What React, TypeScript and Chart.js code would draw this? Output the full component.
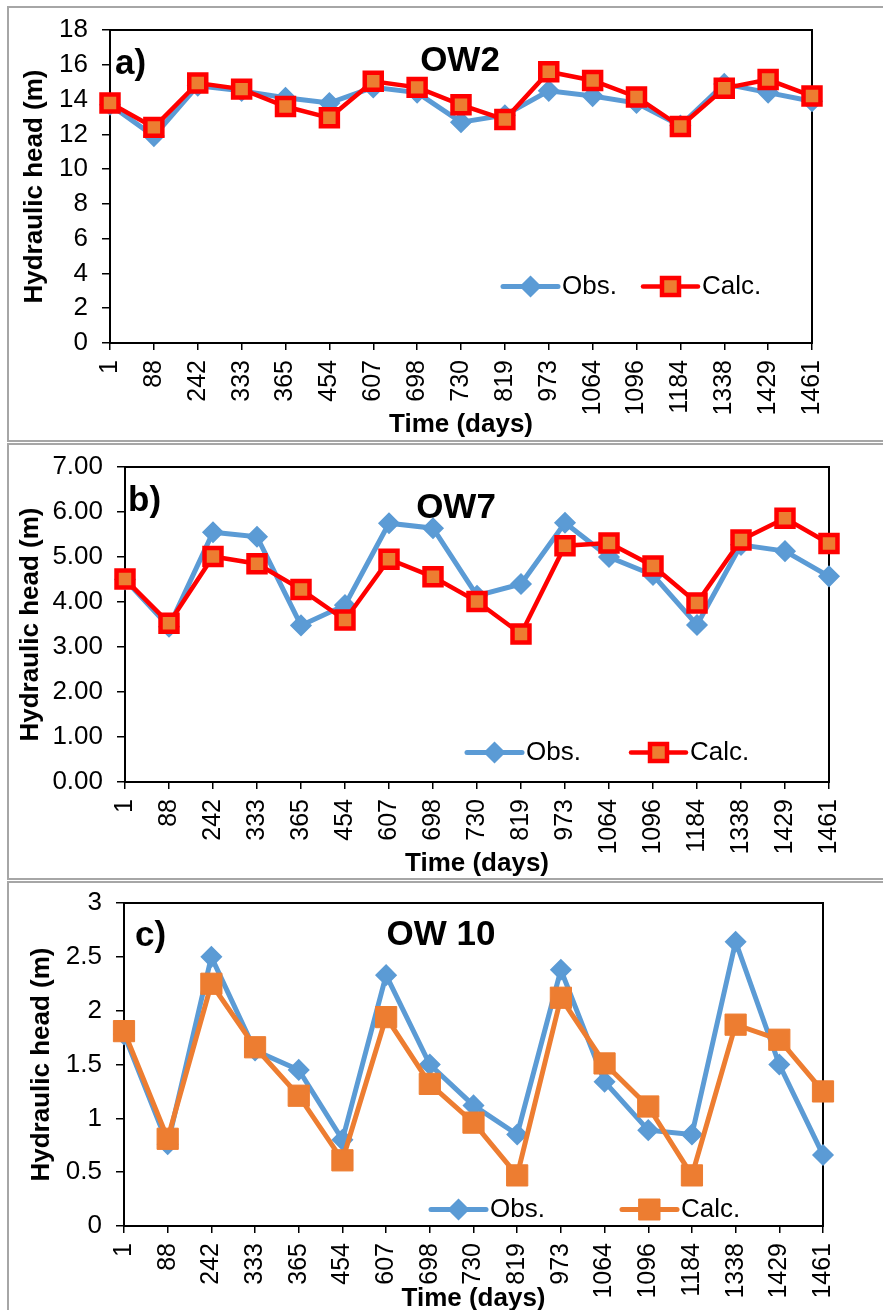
import React, { useEffect, useRef } from 'react';
import { Chart, registerables } from 'chart.js';

Chart.register(...registerables);

// ---------- data ----------
const days = ['1', '88', '242', '333', '365', '454', '607', '698', '730', '819', '973', '1064', '1096', '1184', '1338', '1429', '1461'];

const ow2Obs = [13.7, 11.9, 14.8, 14.5, 14.1, 13.8, 14.7, 14.4, 12.7, 13.1, 14.5, 14.2, 13.8, 12.5, 14.9, 14.4, 13.9];
const ow2Calc = [13.8, 12.4, 14.95, 14.6, 13.6, 12.95, 15.05, 14.7, 13.7, 12.85, 15.6, 15.1, 14.15, 12.45, 14.65, 15.15, 14.2];

const ow7Obs = [4.5, 3.45, 5.55, 5.45, 3.48, 3.93, 5.75, 5.64, 4.14, 4.4, 5.76, 5.0, 4.6, 3.49, 5.27, 5.13, 4.57];
const ow7Calc = [4.51, 3.53, 5.01, 4.85, 4.28, 3.6, 4.95, 4.56, 4.01, 3.29, 5.25, 5.31, 4.8, 3.98, 5.38, 5.86, 5.3];

const ow10Obs = [1.78, 0.76, 2.5, 1.63, 1.45, 0.8, 2.33, 1.5, 1.12, 0.85, 2.38, 1.34, 0.89, 0.85, 2.64, 1.5, 0.66];
const ow10Calc = [1.81, 0.81, 2.25, 1.66, 1.21, 0.61, 1.94, 1.32, 0.96, 0.47, 2.12, 1.51, 1.11, 0.47, 1.87, 1.73, 1.25];

const seriesNames = ['Obs.', 'Calc.'];
const xTitle = 'Time (days)';
const yTitle = 'Hydraulic head (m)';

// ---------- styles ----------
const FONT = "'Liberation Sans', Arial, Helvetica, sans-serif";
const BLUE = '#5B9BD5';
const ORANGE = '#ED7D31';
const RED = '#FF0000';

type Spec = {
  top: number; height: number;
  padLeft: number; padTop: number; padRight: number; padBottom: number;
  yWidth: number; xHeight: number;
  yMin: number; yMax: number; yStep: number; yDec: number;
  obs: number[]; calc: number[]; redCalc: boolean;
  letter: string; letterX: number; letterY: number;
  title: string; titleX: number; titleY: number;
  legendY: number; obsLX: number; calcLX: number;
};

const specs: Spec[] = [
  {
    top: 0, height: 442, padLeft: 19, padTop: 30, padRight: 71, padBottom: 2, yWidth: 91, xHeight: 97,
    yMin: 0, yMax: 18, yStep: 2, yDec: 0, obs: ow2Obs, calc: ow2Calc, redCalc: true,
    letter: 'a)', letterX: 115, letterY: 74, title: 'OW2', titleX: 460, titleY: 71,
    legendY: 286.5, obsLX: 503, calcLX: 643,
  },
  {
    top: 443, height: 436, padLeft: 15, padTop: 24, padRight: 54, padBottom: 0, yWidth: 110, xHeight: 97,
    yMin: 0, yMax: 7, yStep: 1, yDec: 2, obs: ow7Obs, calc: ow7Calc, redCalc: true,
    letter: 'b)', letterX: 128, letterY: 511, title: 'OW7', titleX: 456, titleY: 518,
    legendY: 752.5, obsLX: 467, calcLX: 631,
  },
  {
    top: 881, height: 440, padLeft: 26, padTop: 22, padRight: 60, padBottom: 7, yWidth: 98, xHeight: 88,
    yMin: 0, yMax: 3, yStep: 0.5, yDec: -1, obs: ow10Obs, calc: ow10Calc, redCalc: false,
    letter: 'c)', letterX: 135, letterY: 946, title: 'OW 10', titleX: 441, titleY: 945,
    legendY: 1209.5, obsLX: 431, calcLX: 622,
  },
];

function drawDiamond(ctx: CanvasRenderingContext2D, x: number, y: number, r: number) {
  ctx.beginPath();
  ctx.moveTo(x, y - r);
  ctx.lineTo(x + r, y);
  ctx.lineTo(x, y + r);
  ctx.lineTo(x - r, y);
  ctx.closePath();
  ctx.fillStyle = BLUE;
  ctx.fill();
  ctx.lineWidth = 1.5;
  ctx.strokeStyle = BLUE;
  ctx.stroke();
}

function drawSquare(ctx: CanvasRenderingContext2D, x: number, y: number, half: number, fill: string, stroke: string, lw: number) {
  ctx.beginPath();
  ctx.rect(x - half, y - half, half * 2, half * 2);
  ctx.fillStyle = fill;
  ctx.fill();
  ctx.lineWidth = lw;
  ctx.strokeStyle = stroke;
  ctx.stroke();
}

function Panel({ s }: { s: Spec }) {
  const ref = useRef<HTMLCanvasElement | null>(null);

  useEffect(() => {
    const canvas = ref.current;
    if (!canvas) return;

    const decor = {
      id: 'decor',
      beforeDatasetsDraw(chart: any) {
        const { ctx, chartArea: a } = chart;
        ctx.save();
        ctx.strokeStyle = '#000';
        ctx.lineWidth = 2;
        ctx.strokeRect(a.left, a.top, a.right - a.left, a.bottom - a.top);
        ctx.restore();
      },
      afterDraw(chart: any) {
        const ctx: CanvasRenderingContext2D = chart.ctx;
        const off = s.top;
        ctx.save();
        ctx.fillStyle = '#000';
        ctx.textBaseline = 'alphabetic';
        ctx.font = `bold 35px ${FONT}`;
        ctx.textAlign = 'left';
        ctx.fillText(s.letter, s.letterX, s.letterY - off);
        ctx.textAlign = 'center';
        ctx.fillText(s.title, s.titleX, s.titleY - off);

        // legend
        const ly = s.legendY - off;
        // Obs
        ctx.lineCap = 'round';
        ctx.strokeStyle = BLUE;
        ctx.lineWidth = 5;
        ctx.beginPath();
        ctx.moveTo(s.obsLX, ly);
        ctx.lineTo(s.obsLX + 55, ly);
        ctx.stroke();
        drawDiamond(ctx, s.obsLX + 27.5, ly, 10);
        // Calc
        ctx.strokeStyle = s.redCalc ? RED : ORANGE;
        ctx.lineWidth = s.redCalc ? 4.5 : 5;
        ctx.beginPath();
        ctx.moveTo(s.calcLX, ly);
        ctx.lineTo(s.calcLX + 55, ly);
        ctx.stroke();
        if (s.redCalc) drawSquare(ctx, s.calcLX + 27.5, ly, 8.5, ORANGE, RED, 4.5);
        else drawSquare(ctx, s.calcLX + 27.5, ly, 10.5, ORANGE, ORANGE, 1);

        ctx.fillStyle = '#000';
        ctx.font = `26px ${FONT}`;
        ctx.textAlign = 'left';
        ctx.textBaseline = 'middle';
        ctx.fillText(seriesNames[0], s.obsLX + 59, ly);
        ctx.fillText(seriesNames[1], s.calcLX + 59, ly);
        ctx.restore();
      },
    };

    const calcColor = s.redCalc ? RED : ORANGE;

    const chart = new Chart(canvas, {
      type: 'line',
      data: {
        labels: days,
        datasets: [
          {
            label: seriesNames[0],
            data: s.obs,
            order: 2,
            borderColor: BLUE,
            borderWidth: 5,
            pointStyle: 'rectRot',
            pointRadius: 10,
            pointBackgroundColor: BLUE,
            pointBorderColor: BLUE,
            pointBorderWidth: 1.5,
            tension: 0,
            clip: false,
          } as any,
          {
            label: seriesNames[1],
            data: s.calc,
            order: 1,
            borderColor: calcColor,
            borderWidth: s.redCalc ? 4.5 : 5,
            pointStyle: 'rect',
            pointRadius: s.redCalc ? 12 : 15,
            pointBackgroundColor: ORANGE,
            pointBorderColor: calcColor,
            pointBorderWidth: s.redCalc ? 4.5 : 1,
            tension: 0,
            clip: false,
          } as any,
        ],
      },
      options: {
        responsive: false,
        animation: false,
        events: [],
        layout: { padding: { left: s.padLeft, top: s.padTop, right: s.padRight, bottom: s.padBottom } },
        plugins: {
          legend: { display: false },
          tooltip: { enabled: false },
          title: { display: false },
        },
        scales: {
          x: {
            type: 'category',
            offset: false,
            border: { display: false },
            grid: { display: true, drawOnChartArea: false, drawTicks: true, tickLength: 7, color: '#000', lineWidth: 1.5 },
            ticks: {
              autoSkip: false, maxRotation: 90, minRotation: 90, padding: 10, color: '#000',
              font: { family: FONT, size: 25 },
            },
            title: {
              display: true, text: xTitle, color: '#000', padding: 0,
              font: { family: FONT, size: 26, weight: 'bold' },
            },
            afterFit: (sc: any) => {
              sc.height = s.xHeight;
              sc.paddingLeft = 0;
              sc.paddingRight = 0;
            },
          } as any,
          y: {
            min: s.yMin,
            max: s.yMax,
            border: { display: false },
            grid: { display: true, drawOnChartArea: false, drawTicks: true, tickLength: 8, color: '#000', lineWidth: 1.5 },
            ticks: {
              stepSize: s.yStep, padding: 14, color: '#000',
              font: { family: FONT, size: 26 },
              callback: (v: any) => (s.yDec >= 0 ? Number(v).toFixed(s.yDec) : String(Number(v))),
            },
            title: {
              display: true, text: yTitle, color: '#000', padding: 0,
              font: { family: FONT, size: 26, weight: 'bold' },
            },
            afterFit: (sc: any) => {
              sc.width = s.yWidth;
              sc.paddingTop = 0;
              sc.paddingBottom = 0;
            },
          } as any,
        },
      },
      plugins: [decor],
    } as any);

    return () => chart.destroy();
  }, [s]);

  return (
    <canvas
      ref={ref}
      width={883}
      height={s.height}
      style={{ position: 'absolute', left: 0, top: s.top, width: 883, height: s.height, display: 'block' }}
    />
  );
}

export default function App() {
  const frame = (top: number, height: number): React.CSSProperties => ({
    position: 'absolute', left: 7, top, width: 900, height,
    border: '2px solid #A6A6A6', boxSizing: 'border-box', background: '#fff',
  });
  return (
    <div style={{ position: 'absolute', left: 0, top: 0, width: 883, height: 1310, overflow: 'hidden', background: '#fff' }}>
      <div style={frame(6, 436)} />
      <div style={frame(443, 437)} />
      <div style={frame(881, 500)} />
      {specs.map((s, i) => (
        <Panel key={i} s={s} />
      ))}
    </div>
  );
}
